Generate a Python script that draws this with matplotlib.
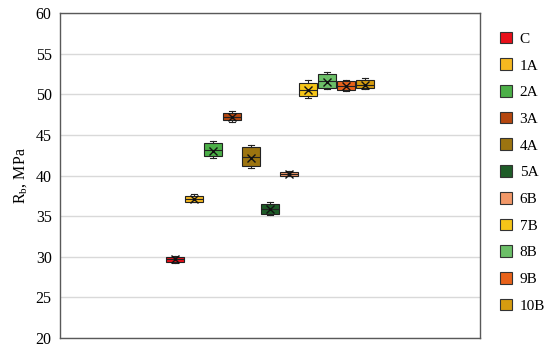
import matplotlib.pyplot as plt
from matplotlib.patches import Patch

plt.rcParams['font.family'] = ['Liberation Serif', 'DejaVu Serif']

labels = ['C', '1A', '2A', '3A', '4A', '5A', '6B', '7B', '8B', '9B', '10B']
colors = ['#E8101A', '#F5B820', '#4CAF48', '#B5470F', '#9C7410', '#1E5C28',
          '#F29868', '#F5C518', '#6CBF68', '#E8621A', '#D69C10']
whislo = [29.2, 36.7, 42.1, 46.6, 40.9, 35.1, 39.9, 49.5, 50.7, 50.4, 50.6]
q1 = [29.4, 36.8, 42.4, 46.85, 41.2, 35.3, 40.0, 49.8, 50.8, 50.5, 50.8]
med = [29.7, 37.1, 43.1, 47.2, 42.3, 35.9, 40.2, 50.5, 51.6, 51.0, 51.2]
q3 = [30.0, 37.5, 44.0, 47.75, 43.45, 36.55, 40.4, 51.4, 52.5, 51.65, 51.7]
whishi = [30.1, 37.7, 44.3, 48.0, 43.75, 36.7, 40.5, 51.7, 52.8, 51.8, 51.95]
means = [29.7, 37.1, 43.0, 47.2, 42.2, 35.9, 40.2, 50.5, 51.5, 51.0, 51.2]

stats = []
for i in range(len(labels)):
    stats.append({'label': labels[i], 'whislo': whislo[i], 'q1': q1[i], 'med': med[i],
                  'q3': q3[i], 'whishi': whishi[i], 'mean': means[i], 'fliers': []})

fig = plt.figure(figsize=(5.5, 3.5), dpi=100)
ax = fig.add_axes([60 / 550, 12 / 350, 420 / 550, 325 / 350])

pos = list(range(1, len(labels) + 1))
bp = ax.bxp(stats, positions=pos, widths=0.9, patch_artist=True, showmeans=True,
            boxprops=dict(edgecolor='#222222', linewidth=0.8),
            medianprops=dict(color='#222222', linewidth=0.8),
            whiskerprops=dict(color='#222222', linewidth=0.8),
            capprops=dict(color='#222222', linewidth=0.8),
            capwidths=0.35,
            meanprops=dict(marker='x', markeredgecolor='#111111', markersize=6, markeredgewidth=1.0))
for b, c in zip(bp['boxes'], colors):
    b.set_facecolor(c)

ax.set_xlim(6 - 11.05, 6 + 11.05)
ax.set_ylim(20, 60)
ax.set_yticks(range(20, 61, 5))
ax.set_xticks([])
ax.yaxis.grid(True, color='#d9d9d9', linewidth=1.0)
ax.set_axisbelow(True)
for s in ax.spines.values():
    s.set_color('#595959')
    s.set_linewidth(1.0)
ax.tick_params(axis='y', length=0, labelsize=11.5, pad=6)
ax.set_ylabel('R$_\\mathregular{b}$, MPa', fontsize=11.5)

handles = [Patch(facecolor=c, edgecolor='#333333', linewidth=0.8) for c in colors]
fig.legend(handles, labels, loc='upper left', bbox_to_anchor=(486 / 550, 332 / 350),
           frameon=False, fontsize=11, handlelength=0.8, handleheight=0.8,
           labelspacing=0.82, handletextpad=0.5)

fig.savefig('out.png', dpi=100)
